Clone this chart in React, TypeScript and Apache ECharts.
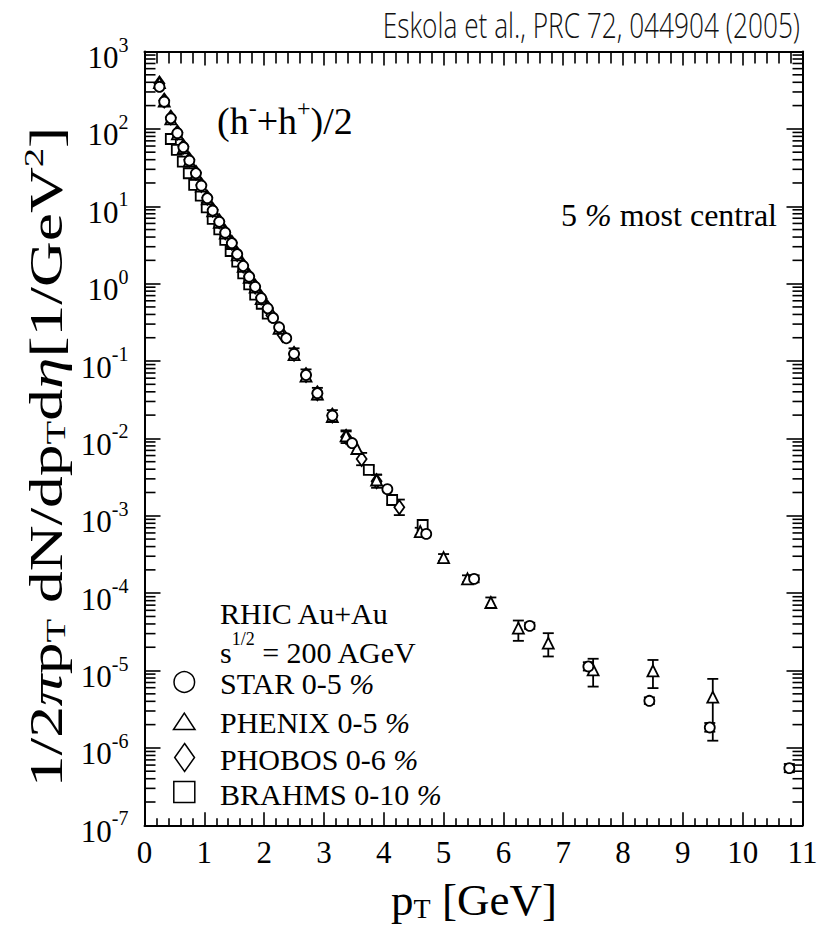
import React, { useEffect, useRef } from "react";
import * as echarts from "echarts";

const SERIF = "'Liberation Serif', 'Times New Roman', Times, serif";
const SANS = "'Open Sans', 'Noto Sans', sans-serif";

// axis layout values
const xMin = 0;
const xMax = 11;
const yMin = 1e-7;
const yMax = 1e3;
const yDecades = [-7, -6, -5, -4, -3, -2, -1, 0, 1, 2];
const minorMultipliers = [2, 3, 4, 5, 6, 7, 8, 9];

// STAR 0-5 %
const starPt = [0.25, 0.33, 0.44, 0.55, 0.65, 0.75, 0.86, 0.95, 1.05, 1.14, 1.25, 1.35, 1.46, 1.55, 1.65, 1.75, 1.85, 1.95, 2.06, 2.15, 2.25, 2.37, 2.5, 2.7, 2.89, 3.14, 3.47, 4.06, 4.71, 5.51, 6.44, 7.42, 8.44, 9.45, 10.78];
const starVal = [350, 225, 137, 88, 58, 39, 26.7, 18.5, 12.7, 8.8, 6.3, 4.56, 3.33, 2.4, 1.69, 1.23, 0.91, 0.65, 0.48, 0.36, 0.273, 0.197, 0.124, 0.066, 0.0384, 0.0197, 0.0087, 0.00221, 0.000583, 0.000153, 3.78e-5, 1.13e-5, 4.06e-6, 1.84e-6, 5.48e-7];
const starBars = [[5.51, 1.38e-4, 1.7e-4], [6.44, 3.45e-5, 4.15e-5], [7.42, 1.0e-5, 1.28e-5], [8.44, 3.7e-6, 4.5e-6], [9.45, 1.62e-6, 2.1e-6], [10.78, 4.85e-7, 6.2e-7]];

// PHENIX 0-5 %
const phenixPt = [0.25, 0.33, 0.44, 0.55, 0.65, 0.75, 0.86, 0.95, 1.05, 1.14, 1.25, 1.35, 1.46, 1.55, 1.65, 1.75, 1.85, 1.95, 2.25, 2.5, 2.7, 2.89, 3.14, 3.37, 3.55, 3.88, 4.61, 5.0, 5.4, 5.79, 6.25, 6.75, 7.5, 8.5, 9.5];
const phenixVal = [395, 228, 135, 86, 57, 38.5, 26.3, 18.2, 12.5, 8.7, 6.2, 4.5, 3.3, 2.36, 1.67, 1.21, 0.9, 0.64, 0.265, 0.121, 0.064, 0.0375, 0.0192, 0.0108, 0.0074, 0.0029, 0.000625, 0.000288, 0.000153, 7.57e-5, 3.53e-5, 2.26e-5, 1.02e-5, 9.9e-6, 4.53e-6];
const phenixBars = [[3.37, 0.0093, 0.0127], [3.88, 0.0025, 0.0034], [4.61, 5.6e-4, 7.0e-4], [5.0, 2.6e-4, 3.2e-4], [5.4, 1.38e-4, 1.7e-4], [5.79, 6.5e-5, 8.8e-5], [6.25, 2.42e-5, 4.43e-5], [6.75, 1.52e-5, 3.04e-5], [7.5, 6.2e-6, 1.42e-5], [8.5, 5.93e-6, 1.37e-5], [9.5, 1.24e-6, 7.8e-6]];

// PHOBOS 0-6 %
const phobosPt = [0.25, 0.33, 0.44, 0.55, 0.65, 0.75, 0.86, 0.95, 1.05, 1.14, 1.25, 1.35, 1.46, 1.55, 1.65, 1.75, 1.85, 1.95, 2.06, 2.12, 2.31, 2.5, 2.7, 2.89, 3.14, 3.37, 3.63, 3.88, 4.26];
const phobosVal = [385, 232, 140, 90, 59, 40, 27.2, 18.8, 12.9, 9.0, 6.4, 4.6, 3.38, 2.42, 1.72, 1.25, 0.92, 0.66, 0.485, 0.39, 0.217, 0.124, 0.066, 0.0384, 0.0197, 0.0104, 0.0054, 0.0028, 0.00129];
const phobosBars = [[2.5, 0.104, 0.146], [2.7, 0.055, 0.078], [2.89, 0.032, 0.045], [3.14, 0.0165, 0.0232], [3.37, 0.0087, 0.0123], [3.63, 0.0045, 0.0065], [3.88, 0.0023, 0.0034], [4.26, 0.00102, 0.00162]];

// BRAHMS 0-10 %
const brahmsPt = [0.44, 0.54, 0.64, 0.74, 0.83, 0.94, 1.04, 1.14, 1.25, 1.35, 1.44, 1.55, 1.65, 1.75, 1.85, 1.96, 2.06, 3.75, 4.14, 4.65];
const brahmsVal = [74, 53.4, 37.7, 26.7, 18.9, 13.7, 9.7, 6.85, 5.04, 3.67, 2.64, 1.92, 1.36, 0.98, 0.72, 0.55, 0.41, 0.00392, 0.0016, 0.00076];
const brahmsBars = [[3.75, 0.0035, 0.0044], [4.14, 0.00142, 0.0018], [4.65, 0.00066, 0.00088]];

const legendLabels = ["STAR 0-5 ", "PHENIX 0-5 ", "PHOBOS 0-6 ", "BRAHMS 0-10 "];
const legendRowY = [683, 722, 759, 794];
const titleText = "Eskola et al., PRC 72, 044904 (2005)";

const INK = "#000";

function pairs(xs: number[], ys: number[]) {
  return xs.map((x, i) => [x, ys[i]]);
}

function markerSeries(name: string, xs: number[], ys: number[], symbol: string, size: number | number[], z: number) {
  return {
    type: "scatter",
    name,
    symbol,
    symbolSize: size,
    data: pairs(xs, ys),
    itemStyle: { color: "#fff", borderColor: INK, borderWidth: 1.8, opacity: 1 },
    z,
    silent: true,
    emphasis: { disabled: true },
  };
}

function errorSeries(bars: number[][], z: number) {
  return {
    type: "custom",
    data: bars,
    encode: { x: 0, y: [1, 2] },
    z,
    silent: true,
    renderItem: (_params: any, api: any) => {
      const x = api.value(0);
      const lo = api.coord([x, api.value(1)]);
      const hi = api.coord([x, api.value(2)]);
      const w = 5.5;
      const st = { stroke: INK, lineWidth: 1.8 };
      return {
        type: "group",
        children: [
          { type: "line", shape: { x1: lo[0], y1: lo[1], x2: hi[0], y2: hi[1] }, style: st },
          { type: "line", shape: { x1: lo[0] - w, y1: lo[1], x2: lo[0] + w, y2: lo[1] }, style: st },
          { type: "line", shape: { x1: hi[0] - w, y1: hi[1], x2: hi[0] + w, y2: hi[1] }, style: st },
        ],
      };
    },
  };
}

// log-axis minor ticks (2..9 per decade) on both vertical frame edges
function minorTickSeries() {
  const data: number[][] = [];
  yDecades.forEach((d) => minorMultipliers.forEach((m) => data.push([xMin, m * Math.pow(10, d)])));
  return {
    type: "custom",
    data,
    encode: { x: 0, y: 1 },
    z: 5,
    silent: true,
    renderItem: (params: any, api: any) => {
      const cs = params.coordSys;
      const y = api.coord([xMin, api.value(1)])[1];
      const L = cs.x;
      const R = cs.x + cs.width;
      const st = { stroke: INK, lineWidth: 1.6 };
      return {
        type: "group",
        children: [
          { type: "line", shape: { x1: L, y1: y, x2: L + 11, y2: y }, style: st },
          { type: "line", shape: { x1: R - 10, y1: y, x2: R, y2: y }, style: st },
        ],
      };
    },
  };
}

export default function App() {
  const ref = useRef<HTMLDivElement>(null);

  useEffect(() => {
    if (!ref.current) return;
    const chart = echarts.init(ref.current, null, { renderer: "svg" });

    const tickStyle = { color: INK, width: 1.6 };
    const lineStyle = { color: INK, width: 2 };

    const xCommon = {
      type: "value",
      min: xMin,
      max: xMax,
      interval: 1,
      splitLine: { show: false },
      axisLine: { show: true, onZero: false, lineStyle },
    };

    const yCommon = {
      type: "log",
      logBase: 10,
      min: yMin,
      max: yMax,
      interval: 1,
      splitNumber: 10,
      splitLine: { show: false },
      minorTick: { show: false },
      axisLine: { show: true, onZero: false, lineStyle },
      axisTick: { show: true, inside: true, length: 16, lineStyle: tickStyle },
    };

    const option: any = {
      animation: false,
      backgroundColor: "#fff",
      grid: { left: 144.5, top: 51.5, right: 18.5, bottom: 103.7, containLabel: false, outerBoundsMode: "none" },
      xAxis: [
        {
          ...xCommon,
          position: "bottom",
          axisTick: { show: true, inside: true, length: 13, lineStyle: tickStyle },
          minorTick: { show: true, splitNumber: 5, length: 7, lineStyle: tickStyle },
          axisLabel: {
            show: true,
            margin: 12,
            color: INK,
            fontFamily: SERIF,
            fontSize: 31,
            showMinLabel: true,
            showMaxLabel: true,
          },
        },
        {
          ...xCommon,
          position: "top",
          axisTick: { show: true, inside: true, length: 14, lineStyle: tickStyle },
          minorTick: { show: true, splitNumber: 5, length: 12, lineStyle: tickStyle },
          axisLabel: { show: false },
        },
      ],
      yAxis: [
        {
          ...yCommon,
          position: "left",
          axisLabel: {
            show: true,
            margin: 16,
            showMinLabel: true,
            showMaxLabel: true,
            formatter: (v: number) => `{b|10}{s|${Math.round(Math.log10(v))}}`,
            rich: {
              b: { fontFamily: SERIF, fontSize: 31, color: INK, padding: [12, 0, 0, 0] },
              s: { fontFamily: SERIF, fontSize: 20, color: INK, padding: [0, 0, 14, 0] },
            },
          },
        },
        {
          ...yCommon,
          position: "right",
          axisTick: { show: true, inside: true, length: 16, lineStyle: tickStyle },
          axisLabel: { show: false },
        },
      ],
      series: [
        minorTickSeries(),
        errorSeries(brahmsBars, 2),
        markerSeries("BRAHMS 0-10 %", brahmsPt, brahmsVal, "rect", 10, 3),
        errorSeries(phobosBars, 2),
        markerSeries("PHOBOS 0-6 %", phobosPt, phobosVal, "diamond", [10, 14], 3),
        errorSeries(phenixBars, 2),
        markerSeries("PHENIX 0-5 %", phenixPt, phenixVal, "triangle", 11, 3),
        errorSeries(starBars, 2),
        markerSeries("STAR 0-5 %", starPt, starVal, "circle", 10, 4),
      ],
      graphic: [
        {
          type: "text",
          x: 800,
          y: 24,
          scaleX: 0.75,
          style: {
            text: titleText,
            fontFamily: SANS,
            fontWeight: 300,
            fontSize: 35,
            fill: "#111",
            align: "right",
            verticalAlign: "middle",
          },
        },
        {
          type: "text",
          x: 217,
          y: 121,
          style: {
            text: "{n|(h}{s|-}{n|+h}{s|+}{n|)/2}",
            align: "left",
            verticalAlign: "middle",
            rich: {
              n: { fontFamily: SERIF, fontSize: 38, fill: INK },
              s: { fontFamily: SERIF, fontSize: 24, fill: INK, padding: [0, 0, 26, 0] },
            },
          },
        },
        {
          type: "text",
          x: 777,
          y: 215,
          style: {
            text: "{n|5 }{i|%}{n| most central}",
            align: "right",
            verticalAlign: "middle",
            rich: {
              n: { fontFamily: SERIF, fontSize: 32, fill: INK },
              i: { fontFamily: SERIF, fontSize: 32, fontStyle: "italic", fill: INK },
            },
          },
        },
        {
          type: "text",
          x: 220,
          y: 613,
          style: { text: "RHIC Au+Au", fontFamily: SERIF, fontSize: 30, fill: INK, align: "left", verticalAlign: "middle" },
        },
        {
          type: "text",
          x: 220,
          y: 652,
          style: {
            text: "{n|s}{s|1/2}{n| = 200 AGeV}",
            align: "left",
            verticalAlign: "middle",
            rich: {
              n: { fontFamily: SERIF, fontSize: 30, fill: INK },
              s: { fontFamily: SERIF, fontSize: 18, fill: INK, padding: [0, 0, 26, 0] },
            },
          },
        },
        ...legendLabels.map((t, i) => ({
          type: "text",
          x: 220,
          y: legendRowY[i],
          style: {
            text: `{n|${t}}{i|%}`,
            align: "left",
            verticalAlign: "middle",
            rich: {
              n: { fontFamily: SERIF, fontSize: 30, fill: INK },
              i: { fontFamily: SERIF, fontSize: 30, fontStyle: "italic", fill: INK },
            },
          },
        })),
        {
          type: "circle",
          shape: { cx: 184.3, cy: 682, r: 10.3 },
          style: { fill: "#fff", stroke: INK, lineWidth: 1.5 },
        },
        {
          type: "polygon",
          shape: { points: [[173.5, 729.5], [195, 729.5], [184.3, 713]] },
          style: { fill: "#fff", stroke: INK, lineWidth: 1.5 },
        },
        {
          type: "polygon",
          shape: { points: [[184.6, 743.5], [194.5, 757.5], [184.6, 771.5], [174.7, 757.5]] },
          style: { fill: "#fff", stroke: INK, lineWidth: 1.5 },
        },
        {
          type: "rect",
          shape: { x: 173.8, y: 781.5, width: 21, height: 21 },
          style: { fill: "#fff", stroke: INK, lineWidth: 1.5 },
        },
        {
          type: "text",
          x: 474,
          y: 900,
          style: {
            text: "{n|p}{sub|T}{n| [GeV]}",
            align: "center",
            verticalAlign: "middle",
            rich: {
              n: { fontFamily: SERIF, fontSize: 45, fill: INK },
              sub: { fontFamily: SERIF, fontSize: 28, fill: INK, padding: [16, 0, 0, 0] },
            },
          },
        },
        {
          type: "text",
          x: 47,
          y: 457,
          rotation: Math.PI / 2,
          scaleX: 1.38,
          style: {
            text: "{n|1/2}{i|π}{n|p}{sub|T}{n| dN/dp}{sub|T}{n|d}{i|η}{n|[1/GeV}{sup|2}{n|]}",
            align: "center",
            verticalAlign: "middle",
            rich: {
              n: { fontFamily: SERIF, fontSize: 46, fill: INK },
              i: { fontFamily: SERIF, fontSize: 46, fontStyle: "italic", fill: INK },
              sub: { fontFamily: SERIF, fontSize: 28, fill: INK, padding: [16, 0, 0, 0] },
              sup: { fontFamily: SERIF, fontSize: 28, fill: INK, padding: [0, 0, 28, 0] },
            },
          },
        },
      ],
    };

    chart.setOption(option);
    return () => chart.dispose();
  }, []);

  return <div ref={ref} style={{ position: "absolute", left: 0, top: 0, width: 821, height: 929 }} />;
}
